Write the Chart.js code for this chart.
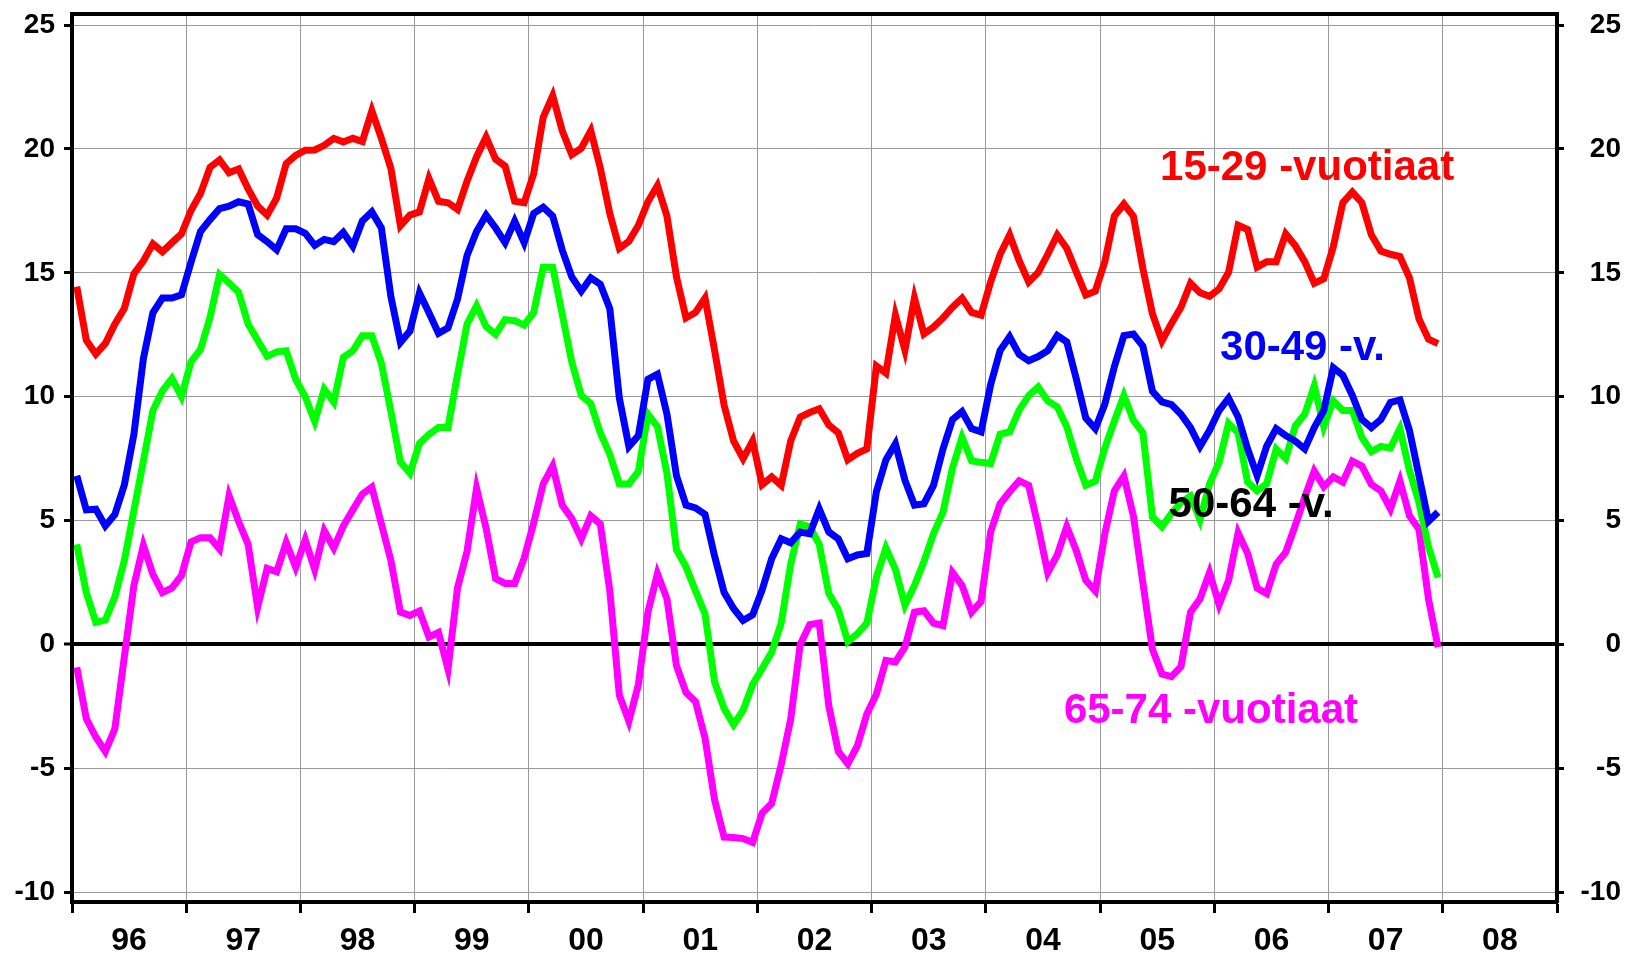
<!DOCTYPE html>
<html lang="fi">
<head>
    <meta charset="UTF-8">
    <title>Työllisyys ikäryhmittäin</title>
    <style>
        body {
            margin: 0;
            background-color: #fff;
        }

        canvas {
            display: block;
        }
    </style>
    <script src="https://cdn.jsdelivr.net/npm/chart.js"></script>
</head>
<body>
    <canvas id="kuvio" width="1632" height="958"></canvas>

    <script>
        // monthly values 1/1996 - 12/2007
        const vuotiaat15_29 = [
            14.44, 12.28, 11.72, 12.15, 12.93, 13.57, 14.96, 15.48, 16.17, 15.85, 16.22, 16.57,
            17.52, 18.2, 19.26, 19.56, 19.04, 19.19, 18.39, 17.7, 17.33, 18.02, 19.41, 19.74,
            19.95, 19.96, 20.15, 20.43, 20.28, 20.43, 20.3, 21.54, 20.43, 19.22, 16.9, 17.33,
            17.46, 18.81, 17.89, 17.83, 17.56, 18.7, 19.69, 20.48, 19.59, 19.31, 17.89, 17.83,
            19.0, 21.28, 22.15, 20.74, 19.77, 20.03, 20.74, 19.23, 17.39, 15.99, 16.27, 16.92,
            17.87, 18.52, 17.29, 14.84, 13.18, 13.4, 13.98, 11.88, 9.66, 8.21, 7.5, 8.21,
            6.45, 6.76, 6.42, 8.21, 9.18, 9.36, 9.51, 8.86, 8.54, 7.45, 7.71, 7.89,
            11.24, 10.95, 13.29, 11.88, 13.98, 12.53, 12.81, 13.18, 13.61, 13.98, 13.4, 13.29,
            14.63, 15.75, 16.53, 15.49, 14.63, 15.02, 15.75, 16.53, 15.99, 15.04, 14.11, 14.26,
            15.45, 17.29, 17.78, 17.29, 15.17, 13.35, 12.25, 12.96, 13.61, 14.58, 14.2, 14.05,
            14.35, 15.02, 16.92, 16.75, 15.23, 15.45, 15.45, 16.57, 16.1, 15.45, 14.58, 14.76,
            16.05, 17.83, 18.26, 17.83, 16.53, 15.88, 15.75, 15.66, 14.8, 13.14, 12.32, 12.14
        ];
        const vuotiaat30_49 = [
            6.81, 5.43, 5.46, 4.78, 5.24, 6.44, 8.48, 11.54, 13.39, 13.98, 13.98, 14.11,
            15.43, 16.67, 17.15, 17.59, 17.69, 17.87, 17.78, 16.54, 16.26, 15.93, 16.78, 16.78,
            16.6, 16.11, 16.35, 16.26, 16.63, 16.07, 17.09, 17.46, 16.81, 14.04, 12.19, 12.65,
            14.19, 13.39, 12.56, 12.78, 13.94, 15.7, 16.67, 17.33, 16.81, 16.22, 17.09, 16.22,
            17.4, 17.65, 17.29, 15.92, 14.84, 14.26, 14.8, 14.54, 13.55, 9.94, 7.99, 8.43,
            10.7, 10.91, 9.29, 6.81, 5.62, 5.51, 5.25, 3.57, 2.1, 1.45, 0.97, 1.19,
            2.2, 3.46, 4.26, 4.1, 4.54, 4.47, 5.47, 4.54, 4.26, 3.46, 3.61, 3.67,
            6.16, 7.45, 8.1, 6.63, 5.62, 5.68, 6.42, 7.89, 9.08, 9.4, 8.71, 8.58,
            10.48, 11.86, 12.42, 11.71, 11.45, 11.62, 11.86, 12.47, 12.21, 10.72, 9.14, 8.71,
            9.7, 11.21, 12.47, 12.53, 12.04, 10.22, 9.79, 9.68, 9.29, 8.75, 7.99, 8.64,
            9.44, 9.94, 9.18, 7.89, 6.81, 8.0, 8.71, 8.43, 8.21, 7.89, 8.75, 9.44,
            11.17, 10.87, 10.05, 9.08, 8.75, 9.08, 9.77, 9.87, 8.64, 6.81, 4.97, 5.34
        ];
        const vuotiaat50_64 = [
            4.04, 2.09, 0.89, 0.98, 1.91, 3.39, 5.4, 7.4, 9.44, 10.24, 10.74, 10.0,
            11.41, 11.91, 13.2, 14.93, 14.59, 14.22, 12.93, 12.28, 11.63, 11.81, 11.85, 10.7,
            10.0, 9.0, 10.3, 9.78, 11.59, 11.85, 12.46, 12.46, 11.35, 9.41, 7.37, 6.91,
            8.11, 8.48, 8.76, 8.76, 10.89, 12.93, 13.67, 12.83, 12.52, 13.11, 13.07, 12.89,
            13.4, 15.23, 15.23, 13.33, 11.4, 10.05, 9.72, 8.54, 7.67, 6.48, 6.48, 6.98,
            9.29, 8.79, 6.91, 3.82, 3.13, 2.16, 1.23, -1.51, -2.59, -3.24, -2.66, -1.62,
            -0.97, -0.32, 0.86, 3.24, 4.86, 4.75, 4.04, 2.05, 1.4, 0.11, 0.43, 0.86,
            2.7, 3.89, 3.03, 1.58, 2.38, 3.35, 4.47, 5.34, 7.13, 8.36, 7.41, 7.35,
            7.3, 8.49, 8.58, 9.46, 10.05, 10.39, 9.83, 9.59, 8.79, 7.5, 6.42, 6.59,
            7.93, 9.01, 10.05, 9.05, 8.54, 5.14, 4.75, 5.29, 5.73, 5.99, 5.03, 6.48,
            7.35, 8.92, 8.54, 6.55, 6.2, 6.48, 7.89, 7.5, 8.82, 9.29, 10.44, 8.79,
            9.83, 9.44, 9.44, 8.36, 7.78, 7.99, 7.93, 8.71, 7.02, 5.73, 3.95, 2.7
        ];
        const vuotiaat65_74 = [
            -0.93, -3.0, -3.74, -4.33, -3.41, -0.5, 2.37, 4.0, 2.83, 2.09, 2.28, 2.78,
            4.13, 4.31, 4.31, 3.85, 6.0, 4.96, 4.04, 1.5, 3.07, 2.93, 4.11, 3.11,
            4.22, 3.02, 4.59, 3.89, 4.78, 5.43, 6.07, 6.35, 4.87, 3.39, 1.3, 1.17,
            1.35, 0.3, 0.48, -1.0, 2.28, 3.76, 6.3, 4.69, 2.65, 2.46, 2.46, 3.48,
            4.9, 6.48, 7.2, 5.62, 5.08, 4.26, 5.19, 4.86, 2.16, -2.05, -3.1, -1.62,
            1.3, 2.85, 1.84, -0.86, -1.94, -2.31, -3.78, -6.27, -7.78, -7.8, -7.84, -7.99,
            -6.81, -6.42, -4.86, -3.02, 0.0, 0.8, 0.86, -2.48, -4.32, -4.82, -4.1, -2.81,
            -2.01, -0.65, -0.71, -0.11, 1.3, 1.36, 0.86, 0.76, 2.9, 2.38, 1.3, 1.73,
            4.54, 5.68, 6.16, 6.6, 6.42, 4.75, 2.9, 3.61, 4.75, 3.78, 2.59, 2.16,
            4.47, 6.2, 6.8, 5.19, 2.48, -0.2, -1.2, -1.3, -0.9, 1.3, 1.84, 2.9,
            1.6, 2.59, 4.5, 3.67, 2.27, 2.05, 3.24, 3.72, 4.8, 5.94, 7.0, 6.37,
            6.76, 6.55, 7.4, 7.2, 6.46, 6.2, 5.47, 6.6, 5.19, 4.65, 1.84, -0.11
        ];

        const sarjat = ["15-29 -vuotiaat", "30-49 -v.", "50-64 -v.", "65-74 -vuotiaat"];
        const vuodet = ["96", "97", "98", "99", "00", "01", "02", "03", "04", "05", "06", "07", "08"];
        const yTicks = [-10, -5, 0, 5, 10, 15, 20, 25];

        const fontti = "'Liberation Sans', Arial, Helvetica, sans-serif";
        const harmaa = "#9a9a9a";

        // points sit in the middle of each month
        function pisteet(arvot) {
            return arvot.map((v, i) => ({ x: i + 0.5, y: v }));
        }

        function sarja(nimi, arvot, vari) {
            return {
                label: nimi,
                data: pisteet(arvot),
                borderColor: vari,
                borderWidth: 7,
                borderJoinStyle: 'miter',
                pointRadius: 0,
                tension: 0,
                fill: false
            };
        }

        // series names written next to the lines, anchored in data units
        const nimiPaikat = [
            { x: 114.3, y: 18.75, color: "#ff0000" },
            { x: 120.6, y: 11.48, color: "#0000ff" },
            { x: 115.2, y: 5.13, color: "#000000" },
            { x: 104.2, y: -3.19, color: "#ff00ff" }
        ];

        const nimetPlugin = {
            id: 'nimet',
            afterDatasetsDraw(chart) {
                const ctx = chart.ctx;
                const xs = chart.scales.x;
                const ys = chart.scales.y;
                ctx.save();
                ctx.font = "bold 42px " + fontti;
                ctx.textAlign = "left";
                ctx.textBaseline = "alphabetic";
                nimiPaikat.forEach((p, i) => {
                    ctx.fillStyle = p.color;
                    ctx.fillText(sarjat[i], xs.getPixelForValue(p.x), ys.getPixelForValue(p.y));
                });
                ctx.restore();
            }
        };

        // fixed axis sizes, no extra room for half labels
        function leveys(w) {
            return s => {
                s.width = w;
                s.paddingTop = 0;
                s.paddingBottom = 0;
            };
        }

        function korkeus(h) {
            return s => {
                s.height = h;
                s.paddingLeft = 0;
                s.paddingRight = 0;
            };
        }

        const yMin = -10.4;
        const yMax = 25.45;

        new Chart(document.getElementById("kuvio"), {
            type: 'line',
            data: {
                datasets: [
                    sarja(sarjat[0], vuotiaat15_29, "#ff0000"),
                    sarja(sarjat[1], vuotiaat30_49, "#0000ff"),
                    sarja(sarjat[2], vuotiaat50_64, "#00ff00"),
                    sarja(sarjat[3], vuotiaat65_74, "#ff00ff")
                ]
            },
            options: {
                responsive: false,
                animation: false,
                layout: { padding: { left: 0, right: 11, top: 0, bottom: 0 } },
                plugins: {
                    legend: { display: false },
                    tooltip: { enabled: false }
                },
                scales: {
                    x: {
                        type: 'linear',
                        position: 'bottom',
                        min: 0,
                        max: 156,
                        afterBuildTicks: s => {
                            s.ticks = [];
                            for (let k = 0; k <= 26; k++) s.ticks.push({ value: k * 6 });
                        },
                        afterFit: korkeus(56),
                        ticks: {
                            autoSkip: false,
                            maxRotation: 0,
                            padding: 9,
                            color: "#000",
                            font: { family: fontti, size: 32, weight: 'bold' },
                            callback: v => (v % 12 === 6 ? vuodet[(v - 6) / 12] : '')
                        },
                        grid: {
                            color: c => (c.tick && c.tick.value % 12 === 0 ? harmaa : 'rgba(0,0,0,0)'),
                            lineWidth: 1,
                            tickColor: c => (c.tick && c.tick.value % 12 === 0 ? "#000" : 'rgba(0,0,0,0)'),
                            tickWidth: 3,
                            tickLength: 11
                        },
                        border: { display: true, color: "#000", width: 4, z: 1 }
                    },
                    xTop: {
                        type: 'linear',
                        position: 'top',
                        min: 0,
                        max: 156,
                        afterFit: korkeus(14),
                        ticks: { display: false },
                        grid: { display: false, drawTicks: false },
                        border: { display: true, color: "#000", width: 4, z: 1 }
                    },
                    y: {
                        type: 'linear',
                        position: 'left',
                        min: yMin,
                        max: yMax,
                        afterBuildTicks: s => { s.ticks = yTicks.map(v => ({ value: v })); },
                        afterFit: leveys(72),
                        ticks: {
                            padding: 9,
                            color: "#000",
                            font: { family: fontti, size: 28, weight: 'bold' },
                            callback: v => String(v)
                        },
                        grid: {
                            color: c => (c.tick && c.tick.value === 0 ? "#000" : harmaa),
                            lineWidth: c => (c.tick && c.tick.value === 0 ? 4 : 1),
                            tickColor: "#000",
                            tickWidth: 3,
                            tickLength: 8
                        },
                        border: { display: true, color: "#000", width: 4, z: 1 }
                    },
                    y2: {
                        type: 'linear',
                        position: 'right',
                        min: yMin,
                        max: yMax,
                        afterBuildTicks: s => { s.ticks = yTicks.map(v => ({ value: v })); },
                        afterFit: leveys(64),
                        ticks: {
                            padding: 9,
                            crossAlign: 'far',
                            color: "#000",
                            font: { family: fontti, size: 28, weight: 'bold' },
                            callback: v => String(v)
                        },
                        grid: {
                            drawOnChartArea: false,
                            tickColor: "#000",
                            tickWidth: 3,
                            tickLength: 7
                        },
                        border: { display: true, color: "#000", width: 4, z: 1 }
                    }
                }
            },
            plugins: [nimetPlugin]
        });
    </script>
</body>
</html>
